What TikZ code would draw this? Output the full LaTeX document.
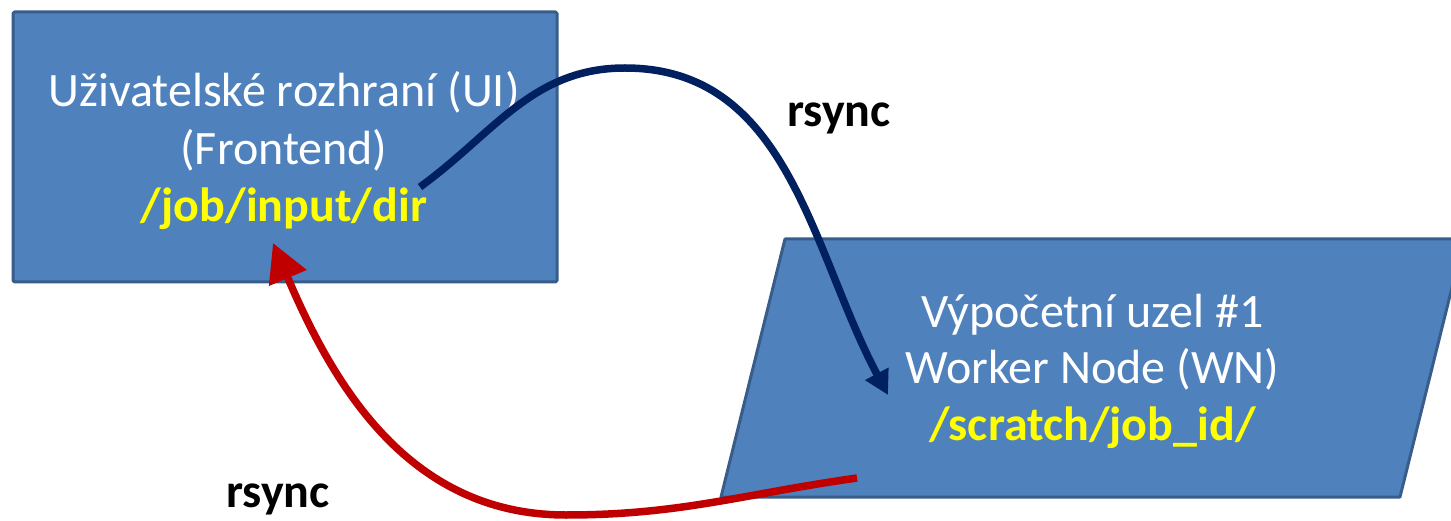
\documentclass[tikz,border=0pt]{standalone}
\usepackage{fontspec}
\setmainfont{Carlito}
\usetikzlibrary{arrows.meta}
\definecolor{boxfill}{HTML}{4F81BD}
\definecolor{boxline}{HTML}{385D8A}
\definecolor{sendblue}{HTML}{002060}
\definecolor{returnred}{HTML}{C00000}
\definecolor{pathyellow}{HTML}{FFFF00}
\begin{document}
\begin{tikzpicture}[x=1pt,y=1pt,
  shapebox/.style={fill=boxfill, draw=boxline, line width=3pt, line join=round},
  boxtext/.style={text=white, font=\fontsize{48}{57.5}\selectfont, inner sep=0pt, anchor=base},
  pathtext/.style={text=pathyellow, font=\fontsize{48}{57.5}\selectfont\bfseries},
  synclabel/.style={font=\fontsize{48}{57.5}\selectfont\bfseries, inner sep=0pt, anchor=base},
  sendarrow/.style={draw=sendblue, line width=7.5pt, -{Triangle[length=24pt,width=25pt]}},
  returnarrow/.style={draw=returnred, line width=7.5pt, -{Triangle[length=38pt,width=39pt]}}]
\useasboundingbox (0,0) rectangle (1451,520);

% frontend (user interface) box
\node[shapebox, rounded corners=1.5pt, minimum width=544pt, minimum height=270pt,
      anchor=south west, inner sep=0pt] (ui) at (11.5,236.5) {};
\node[boxtext] (uiA) at (284,413) {Uživatelské rozhraní (UI)};
\node[boxtext] (uiB) at (284,355) {(Frontend)};
\node[boxtext, pathtext] (uiC) at (284,298) {/job/input/dir};

% worker node, drawn as a parallelogram running off the right edge
\coordinate (wnBL) at (721,23);
\coordinate (wnBR) at (1400,23);
\coordinate (wnTR) at (1464,281);
\coordinate (wnTL) at (785,281);
\draw[shapebox] (wnBL) -- (wnBR) -- (wnTR) -- (wnTL) -- cycle;
\node[boxtext] (wnA) at (1092.5,193) {Výpočetní uzel \#1};
\node[boxtext] (wnB) at (1092.5,137) {Worker Node (WN)};
\node[boxtext, pathtext] (wnC) at (1092.5,80) {/scratch/job\_id/};

% transfer to the worker node
\coordinate (sendStart) at (420,333);
\coordinate (sendTop) at (625,452);
\coordinate (sendEnd) at (888,125);
\draw[sendarrow] (sendStart) to[out=36,in=180] (sendTop) to[out=0,in=118] (sendEnd);
\node[synclabel] (sendLabel) at (839,393) {rsync};

% transfer back to the frontend
\coordinate (backStart) at (857,42);
\coordinate (backLow) at (566,5);
\coordinate (backEnd) at (273,277);
\draw[returnarrow] (backStart) to[out=188,in=0] (backLow) to[out=180,in=-67] (backEnd);
\node[synclabel] (backLabel) at (278,13) {rsync};
\end{tikzpicture}
\end{document}
